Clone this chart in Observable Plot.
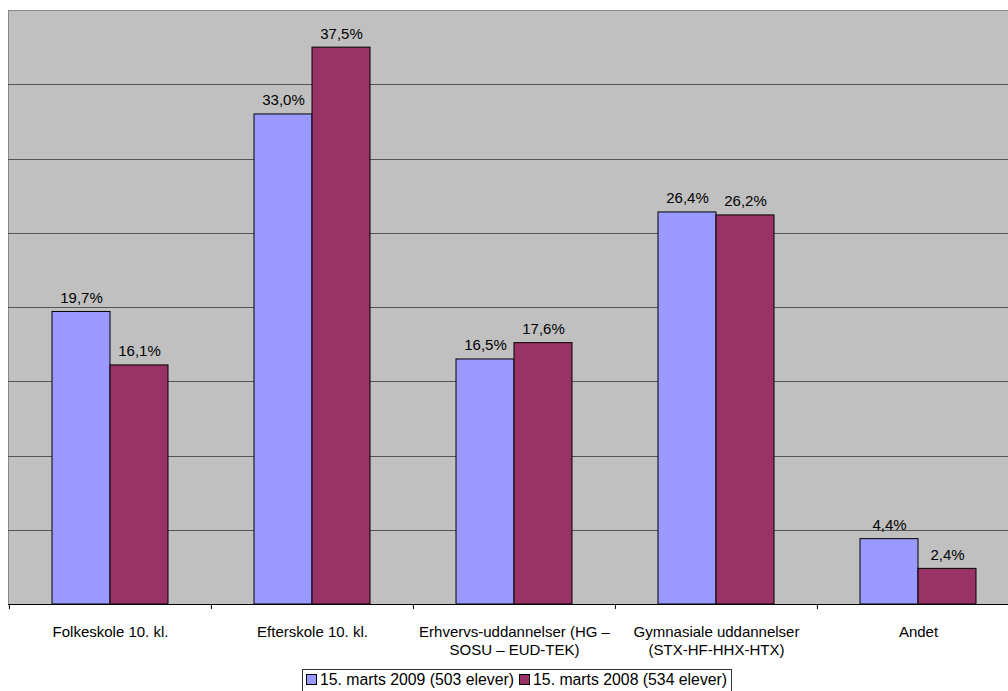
<!DOCTYPE html>
<html><head><meta charset="utf-8">
<script src="https://cdn.jsdelivr.net/npm/d3@7"></script>
<script src="https://cdn.jsdelivr.net/npm/@observablehq/plot@0.6"></script>
<style>
html,body{margin:0;padding:0;background:#fff;}
body{font-family:"Liberation Sans",Arial,sans-serif;overflow:hidden;width:1008px;height:691px;position:relative}
#legend{position:absolute;left:302px;top:669px;border:1px solid #333;padding:1px 4px 4px 3px;font-size:15.8px;white-space:nowrap;background:#fff;color:#000;line-height:17px}
#legend span.item{margin-right:5px}
#legend span.item:last-child{margin-right:0}
.sw{display:inline-block;width:9px;height:9px;border:1px solid #000;margin-right:3px;vertical-align:0px}
</style></head><body>
<div id="chart"></div>
<div id="legend"></div>
<script>
const categories = ["Folkeskole 10. kl.", "Efterskole 10. kl.", "Erhvervs-uddannelser (HG –\nSOSU – EUD-TEK)", "Gymnasiale uddannelser\n(STX-HF-HHX-HTX)", "Andet"];
const series = ["15. marts 2009 (503 elever)", "15. marts 2008 (534 elever)"];
const values2009 = [19.7, 33.0, 16.5, 26.4, 4.4];
const values2008 = [16.1, 37.5, 17.6, 26.2, 2.4];
const colors = ["#9999FF", "#993366"];
const gridValues = [5, 10, 15, 20, 25, 30, 35];
const yMax = 40;

const rows2009 = categories.map((c, i) => ({cat: c, value: values2009[i]}));
const rows2008 = categories.map((c, i) => ({cat: c, value: values2008[i]}));
const fmt = v => v.toFixed(1).replace(".", ",") + "%";

const chart = Plot.plot({
  width: 1008,
  height: 660,
  marginLeft: 8,
  marginRight: -11,
  marginTop: 10,
  marginBottom: 56,
  style: {fontFamily: "'Liberation Sans', Arial, sans-serif", fontSize: "15px", background: "transparent", color: "#000", overflow: "hidden", maxWidth: "none"},
  x: {domain: categories, padding: 0, label: null},
  y: {domain: [0, yMax], axis: null},
  marks: [
    Plot.frame({fill: "#C0C0C0", stroke: "#8a8a8a"}),
    Plot.ruleY(gridValues, {stroke: "#555555", strokeWidth: 1, shapeRendering: "crispEdges"}),
    Plot.barY(rows2009, {x: "cat", y: "value", fill: colors[0], stroke: "#000", strokeWidth: 1, insetLeft: 72, insetRight: 72, dx: -29}),
    Plot.barY(rows2008, {x: "cat", y: "value", fill: colors[1], stroke: "#000", strokeWidth: 1, insetLeft: 72, insetRight: 72, dx: 29}),
    Plot.text(rows2009, {x: "cat", y: "value", text: d => fmt(d.value), dx: -29, dy: -9, lineAnchor: "bottom", fill: "#000", fontSize: 15}),
    Plot.text(rows2008, {x: "cat", y: "value", text: d => fmt(d.value), dx: 29, dy: -9, lineAnchor: "bottom", fill: "#000", fontSize: 15}),
    Plot.ruleY([0], {stroke: "#000", strokeWidth: 1}),
    Plot.ruleX(categories, {x: d => d, dx: -101.1, y1: 0, y2: 0, insetBottom: -5, stroke: "#000"}),
    Plot.axisX({tickSize: 0, tickPadding: 20, fontSize: 15, lineHeight: 1.2, label: null, fill: "#000"})
  ]
});
document.getElementById("chart").appendChild(chart);

const legend = document.getElementById("legend");
series.forEach((s, i) => {
  const item = document.createElement("span");
  item.className = "item";
  const sw = document.createElement("span");
  sw.className = "sw";
  sw.style.background = colors[i];
  item.appendChild(sw);
  item.appendChild(document.createTextNode(s));
  legend.appendChild(item);
});
</script>
</body></html>
